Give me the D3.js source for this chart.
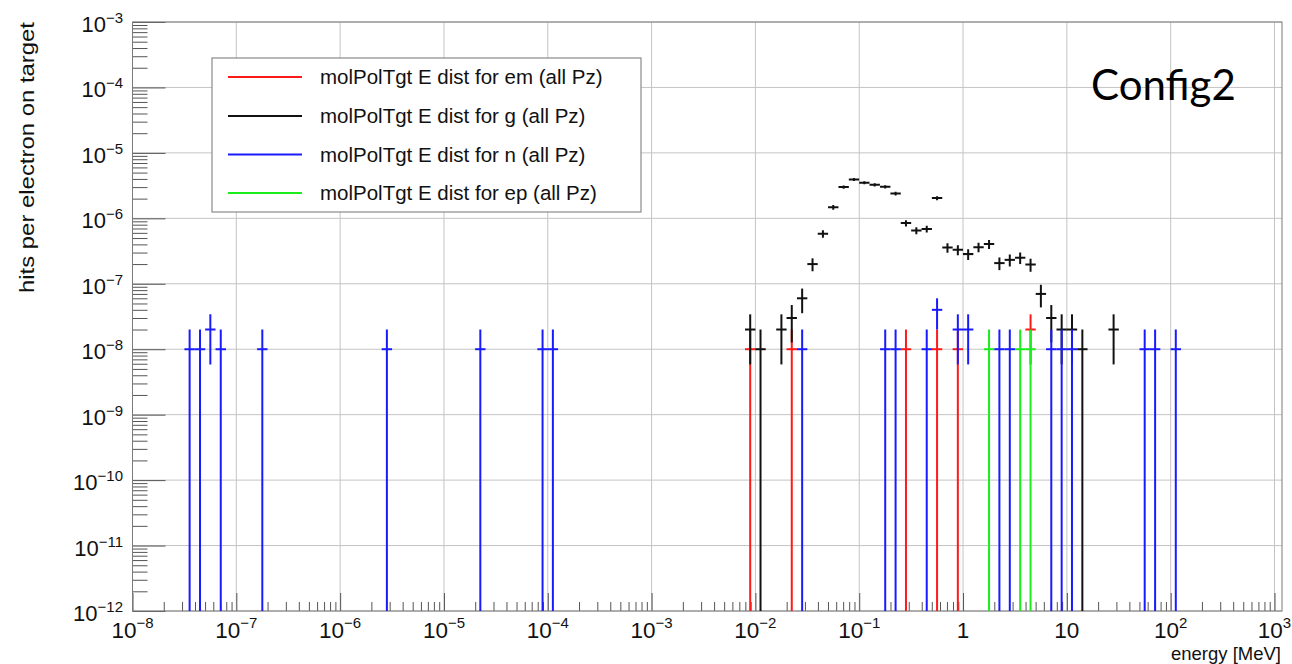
<!DOCTYPE html>
<html><head><meta charset="utf-8">
<script src="https://cdn.jsdelivr.net/npm/d3@7"></script>
<style>body{margin:0;background:#fff}</style>
</head><body>
<svg id="c" width="1292" height="664"></svg>
<script>
// ---------------- data ----------------
const seriesKeys   = ["em", "g", "n", "ep"];
const legendLabels = ["molPolTgt E dist for em (all Pz)", "molPolTgt E dist for g (all Pz)",
                      "molPolTgt E dist for n (all Pz)", "molPolTgt E dist for ep (all Pz)"];
const seriesColors = ["#ff1a1a", "#111111", "#1a1aff", "#1aee1a"];

// bin-centre energies [MeV] and hits per electron on target
const emE = [8.91e-3, 2.24e-2, 0.282, 0.562, 0.891, 4.47];
const emV = [1e-8, 1e-8, 1e-8, 1e-8, 1e-8, 2e-8];

const gE = [8.91e-3, 1.12e-2, 1.78e-2, 2.24e-2, 2.82e-2, 3.55e-2, 4.47e-2, 5.62e-2, 7.08e-2, 8.91e-2,
            0.112, 0.141, 0.178, 0.224, 0.282, 0.355, 0.447, 0.562, 0.708, 0.891,
            1.12, 1.41, 1.78, 2.24, 2.82, 3.55, 4.47, 5.62, 7.08, 8.91, 11.2, 14.1, 28.2];
const gV = [2e-8, 1e-8, 2e-8, 3e-8, 6e-8, 2.0e-7, 5.8e-7, 1.48e-6, 3.0e-6, 3.92e-6,
            3.49e-6, 3.25e-6, 3.03e-6, 2.39e-6, 8.45e-7, 6.5e-7, 6.9e-7, 2.04e-6, 3.58e-7, 3.3e-7,
            2.84e-7, 3.63e-7, 4.04e-7, 2.07e-7, 2.32e-7, 2.5e-7, 1.97e-7, 7e-8, 3e-8, 2e-8, 2e-8, 1e-8, 2e-8];

const nE = [3.55e-8, 4.47e-8, 5.62e-8, 7.08e-8, 1.78e-7, 2.82e-6, 2.24e-5, 8.91e-5, 1.12e-4,
            2.82e-2, 0.178, 0.224, 0.447, 0.562, 0.891, 1.12, 2.24, 2.82, 7.08, 8.91, 11.2, 56.2, 70.8, 112];
const nV = [1e-8, 1e-8, 2e-8, 1e-8, 1e-8, 1e-8, 1e-8, 1e-8, 1e-8,
            1e-8, 1e-8, 1e-8, 1e-8, 4e-8, 2e-8, 2e-8, 1e-8, 1e-8, 1e-8, 1e-8, 1e-8, 1e-8, 1e-8, 1e-8];

const epE = [1.78, 3.55, 4.47];
const epV = [1e-8, 1e-8, 1e-8];

const xTickExps = [-8, -7, -6, -5, -4, -3, -2, -1, 0, 1, 2, 3];
const yTickExps = [-12, -11, -10, -9, -8, -7, -6, -5, -4, -3];

const HIT_WEIGHT = 1e-8;      // weight of one hit (Poisson errors)
const BIN_HALF_DEC = 0.05;    // half bin width in decades

const xTitle = "energy [MeV]";
const yTitle = "hits per electron on target";
const noteText = "Config2";

// ---------------- layout ----------------
const L = 132.5, R = 1274.5, FR = 1282, T = 22, B = 611;
const svg = d3.select("#c");
const x = d3.scaleLog().domain([1e-8, 1e3]).range([L, R]);
const y = d3.scaleLog().domain([1e-12, 1e-3]).range([B, T]);
const FONT = "'Liberation Sans', Arial, Helvetica, sans-serif";

// grid
const grid = svg.append("g").attr("stroke", "#c4c4c4").attr("stroke-width", 1);
xTickExps.forEach(e => grid.append("line")
  .attr("x1", x(Math.pow(10, e))).attr("x2", x(Math.pow(10, e))).attr("y1", T).attr("y2", B));
yTickExps.forEach(e => grid.append("line")
  .attr("x1", L).attr("x2", FR).attr("y1", y(Math.pow(10, e))).attr("y2", y(Math.pow(10, e))));

// ticks
const xMajor = xTickExps.map(e => Math.pow(10, e));
const yMajor = yTickExps.map(e => Math.pow(10, e));
const xMinor = [], yMinor = [];
xTickExps.slice(0, -1).forEach(e => d3.range(2, 10).forEach(k => xMinor.push(k * Math.pow(10, e))));
yTickExps.slice(0, -1).forEach(e => d3.range(2, 10).forEach(k => yMinor.push(k * Math.pow(10, e))));

function styleAxis(g) {
  g.select(".domain").remove();
  g.selectAll("line").attr("stroke", "#555").attr("stroke-width", 1);
}
svg.append("g").attr("transform", `translate(0,${B})`)
  .call(d3.axisBottom(x).tickValues(xMinor).tickSize(-9).tickFormat("")).call(styleAxis);
svg.append("g").attr("transform", `translate(0,${B})`)
  .call(d3.axisBottom(x).tickValues(xMajor).tickSize(-18).tickFormat("")).call(styleAxis);
svg.append("g").attr("transform", `translate(${L},0)`)
  .call(d3.axisLeft(y).tickValues(yMinor).tickSize(-15).tickFormat("")).call(styleAxis);
svg.append("g").attr("transform", `translate(${L},0)`)
  .call(d3.axisLeft(y).tickValues(yMajor).tickSize(-33).tickFormat("")).call(styleAxis);

// frame
svg.append("rect").attr("x", L).attr("y", T).attr("width", FR - L).attr("height", B - T)
  .attr("fill", "none").attr("stroke", "#7a7a7a").attr("stroke-width", 1);

// tick labels
function powLabel(sel, e, supSize, supShift) {
  if (e === 0) { sel.text("1"); return; }
  if (e === 1) { sel.text("10"); return; }
  sel.append("tspan").text("10");
  sel.append("tspan").attr("font-size", supSize).attr("dy", -supShift)
    .text((e < 0 ? "\u2212" : "") + Math.abs(e));
}
xTickExps.forEach(e => {
  const t = svg.append("text").attr("x", x(Math.pow(10, e))).attr("y", 638)
    .attr("text-anchor", "middle").attr("font-family", FONT).attr("font-size", 22.5).attr("fill", "#111");
  powLabel(t, e, 15, 10);
});
yTickExps.forEach(e => {
  const t = svg.append("text").attr("x", 123).attr("y", y(Math.pow(10, e)) + 10)
    .attr("text-anchor", "end").attr("font-family", FONT).attr("font-size", 22).attr("fill", "#111");
  powLabel(t, e, 15, 9);
});

// axis titles
svg.append("text").attr("x", 1281).attr("y", 659.5).attr("text-anchor", "end")
  .attr("font-family", FONT).attr("font-size", 18.5).attr("fill", "#111").text(xTitle);
svg.append("text").attr("transform", "translate(34,293) rotate(-90)")
  .attr("text-anchor", "start").attr("font-family", FONT).attr("font-size", 21)
  .attr("textLength", 271).attr("lengthAdjust", "spacingAndGlyphs").attr("fill", "#111").text(yTitle);

// data
svg.append("clipPath").attr("id", "clip").append("rect")
  .attr("x", L).attr("y", T).attr("width", FR - L).attr("height", B - T);
const plot = svg.append("g").attr("clip-path", "url(#clip)");
const seriesData = [[emE, emV], [gE, gV], [nE, nV], [epE, epV]];
const binF = Math.pow(10, BIN_HALF_DEC);
seriesData.forEach(([es, vs], i) => {
  const pts = es.map((e, j) => ({ e, v: vs[j], err: Math.sqrt(vs[j] / HIT_WEIGHT) * HIT_WEIGHT }));
  const g = plot.append("g").attr("stroke", seriesColors[i]).attr("stroke-width", 2);
  g.selectAll("line.h").data(pts).join("line").attr("class", "h")
    .attr("x1", d => x(d.e / binF)).attr("x2", d => x(d.e * binF))
    .attr("y1", d => y(d.v)).attr("y2", d => y(d.v));
  g.selectAll("line.v").data(pts).join("line").attr("class", "v")
    .attr("x1", d => x(d.e)).attr("x2", d => x(d.e))
    .attr("y1", d => y(d.v + d.err))
    .attr("y2", d => (d.v - d.err) > 1e-13 ? Math.min(y(d.v - d.err), B) : B);
});

// legend
const lg = svg.append("g");
lg.append("rect").attr("x", 212).attr("y", 58).attr("width", 429).attr("height", 154)
  .attr("fill", "#fff").attr("stroke", "#8a8a8a").attr("stroke-width", 1.2);
const rowY = [77, 116, 154.5, 193];
seriesKeys.forEach((k, i) => {
  lg.append("line").attr("x1", 228).attr("x2", 302).attr("y1", rowY[i]).attr("y2", rowY[i])
    .attr("stroke", seriesColors[i]).attr("stroke-width", 2);
  lg.append("text").attr("x", 320).attr("y", rowY[i] + 7).attr("font-family", FONT)
    .attr("font-size", 20.5).attr("fill", "#111").text(legendLabels[i]);
});

// annotation
svg.append("text").attr("x", 1091).attr("y", 100).attr("font-family", "Lato, 'Open Sans', sans-serif")
  .attr("font-size", 42).attr("fill", "#000").text(noteText);
</script>
</body></html>
